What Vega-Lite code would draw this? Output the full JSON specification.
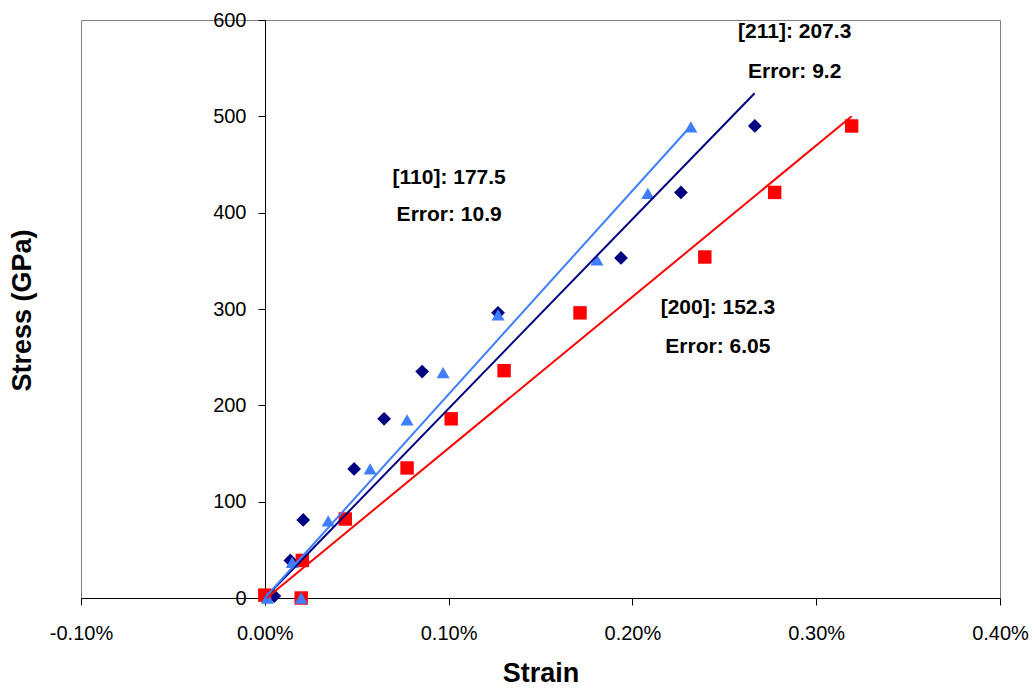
{
  "$schema": "https://vega.github.io/schema/vega-lite/v6.json",
  "width": 919,
  "height": 578,
  "autosize": {"type": "none"},
  "padding": {"left": 81, "top": 20, "right": 35, "bottom": 94},
  "background": "white",
  "config": {
    "view": {"stroke": "#808080", "strokeWidth": 1},
    "font": "Liberation Sans"
  },
  "datasets": {
    "points": [
      {"series": "navy", "strain": 0.000052, "stress": 2},
      {"series": "navy", "strain": 0.000139, "stress": 39},
      {"series": "navy", "strain": 0.000209, "stress": 81},
      {"series": "navy", "strain": 0.000486, "stress": 134},
      {"series": "navy", "strain": 0.000649, "stress": 186},
      {"series": "navy", "strain": 0.000856, "stress": 235},
      {"series": "navy", "strain": 0.001269, "stress": 296},
      {"series": "navy", "strain": 0.001938, "stress": 353},
      {"series": "navy", "strain": 0.002264, "stress": 421},
      {"series": "navy", "strain": 0.002666, "stress": 490},
      {"series": "red", "strain": 0.0, "stress": 3},
      {"series": "red", "strain": 0.000198, "stress": 0},
      {"series": "red", "strain": 0.000204, "stress": 39},
      {"series": "red", "strain": 0.000438, "stress": 82},
      {"series": "red", "strain": 0.000774, "stress": 135},
      {"series": "red", "strain": 0.001014, "stress": 186},
      {"series": "red", "strain": 0.001302, "stress": 236},
      {"series": "red", "strain": 0.001715, "stress": 296},
      {"series": "red", "strain": 0.002394, "stress": 354},
      {"series": "red", "strain": 0.002774, "stress": 421},
      {"series": "red", "strain": 0.003193, "stress": 490},
      {"series": "blue", "strain": 0.000014, "stress": 0},
      {"series": "blue", "strain": 0.000198, "stress": 0},
      {"series": "blue", "strain": 0.000149, "stress": 37},
      {"series": "blue", "strain": 0.000345, "stress": 80},
      {"series": "blue", "strain": 0.000573, "stress": 134},
      {"series": "blue", "strain": 0.000774, "stress": 185},
      {"series": "blue", "strain": 0.00097, "stress": 234},
      {"series": "blue", "strain": 0.001269, "stress": 294},
      {"series": "blue", "strain": 0.001807, "stress": 351},
      {"series": "blue", "strain": 0.002084, "stress": 420},
      {"series": "blue", "strain": 0.002318, "stress": 489}
    ],
    "fits": [
      {"series": "navy", "strain": 0.0, "stress": 0},
      {"series": "navy", "strain": 0.002665, "stress": 524},
      {"series": "red", "strain": 0.00001, "stress": 0},
      {"series": "red", "strain": 0.003193, "stress": 500},
      {"series": "blue", "strain": 0.0, "stress": 0},
      {"series": "blue", "strain": 0.002318, "stress": 490}
    ],
    "labels": [
      {"strain": 0.001003, "stress": 436, "text": "[110]: 177.5"},
      {"strain": 0.001003, "stress": 398, "text": "Error: 10.9"},
      {"strain": 0.002883, "stress": 588, "text": "[211]: 207.3"},
      {"strain": 0.002883, "stress": 546, "text": "Error: 9.2"},
      {"strain": 0.002465, "stress": 301, "text": "[200]: 152.3"},
      {"strain": 0.002465, "stress": 261, "text": "Error: 6.05"}
    ]
  },
  "encoding": {
    "x": {
      "field": "strain",
      "type": "quantitative",
      "scale": {"domain": [-0.001, 0.004], "nice": false},
      "axis": {
        "title": "Strain",
        "labelExpr": "replace(format(datum.value, '.2%'), '\u2212', '-')",
        "values": [-0.001, 0, 0.001, 0.002, 0.003, 0.004],
        "grid": false,
        "domainColor": "#000000",
        "tickColor": "#000000",
        "tickSize": 7,
        "labelFontSize": 20,
        "labelColor": "#000000",
        "labelPadding": 18,
        "labelFlush": false,
        "titleFontSize": 27,
        "titleFontWeight": "bold",
        "titleColor": "#000000",
        "titleBaseline": "middle",
        "titleY": 75
      }
    },
    "y": {
      "field": "stress",
      "type": "quantitative",
      "scale": {"domain": [0, 600], "nice": false},
      "axis": {
        "title": "Stress (GPa)",
        "values": [0, 100, 200, 300, 400, 500, 600],
        "grid": false,
        "offset": -184,
        "domainColor": "#000000",
        "tickColor": "#000000",
        "tickSize": 7,
        "labelFontSize": 20,
        "labelColor": "#000000",
        "labelPadding": 12,
        "labelFlush": false,
        "titleFontSize": 27,
        "titleFontWeight": "bold",
        "titleColor": "#000000",
        "titleX": -243,
        "titleY": 290,
        "titleAlign": "center",
        "titleBaseline": "middle",
        "titleAngle": -90
      }
    }
  },
  "layer": [
    {
      "data": {"name": "points"},
      "mark": {"type": "point", "filled": true, "opacity": 1},
      "encoding": {
        "color": {
          "field": "series",
          "type": "nominal",
          "scale": {"domain": ["navy", "red", "blue"], "range": ["#000080", "#FF0000", "#3F7FFF"]},
          "legend": null
        },
        "shape": {
          "field": "series",
          "type": "nominal",
          "scale": {"domain": ["navy", "red", "blue"], "range": ["diamond", "square", "triangle-up"]},
          "legend": null
        },
        "size": {
          "field": "series",
          "type": "nominal",
          "scale": {"domain": ["navy", "red", "blue"], "range": [190, 170, 220]},
          "legend": null
        }
      }
    },
    {
      "data": {"name": "fits"},
      "mark": {"type": "line", "strokeWidth": 2},
      "encoding": {
        "color": {"field": "series", "type": "nominal", "legend": null}
      }
    },
    {
      "data": {"name": "labels"},
      "mark": {"type": "text", "fontSize": 21, "fontWeight": "bold", "align": "center", "baseline": "middle", "color": "#000000"},
      "encoding": {
        "text": {"field": "text", "type": "nominal"}
      }
    }
  ]
}
